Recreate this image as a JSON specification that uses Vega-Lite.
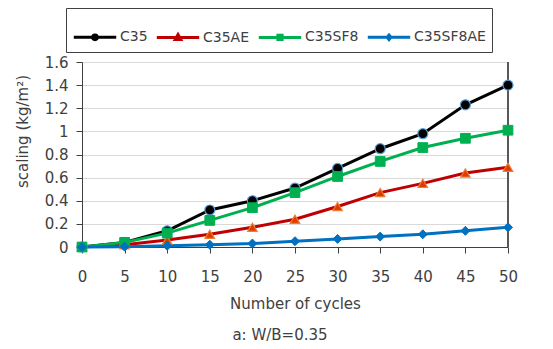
{
  "$schema": "https://vega.github.io/schema/vega-lite/v6.json",
  "width": 426,
  "height": 185,
  "autosize": {"type": "none"},
  "padding": {"left": 82, "top": 62, "right": 45, "bottom": 102},
  "background": "white",
  "config": {
    "font": "DejaVu Sans",
    "view": {"stroke": null},
    "axis": {"labelFont": "DejaVu Sans", "titleFont": "DejaVu Sans", "labelColor": "#404040", "titleColor": "#404040", "titleFontWeight": "normal"}
  },
  "title": {"text": "a: W/B=0.35", "orient": "bottom", "fontSize": 15, "font": "DejaVu Sans", "fontWeight": "normal", "color": "#404040", "dx": -15, "offset": 17},
  "data": {"values": [
    {"cycles": 0, "series": "C35", "scaling": 0},
    {"cycles": 5, "series": "C35", "scaling": 0.04},
    {"cycles": 10, "series": "C35", "scaling": 0.14},
    {"cycles": 15, "series": "C35", "scaling": 0.32},
    {"cycles": 20, "series": "C35", "scaling": 0.40},
    {"cycles": 25, "series": "C35", "scaling": 0.51},
    {"cycles": 30, "series": "C35", "scaling": 0.68},
    {"cycles": 35, "series": "C35", "scaling": 0.85},
    {"cycles": 40, "series": "C35", "scaling": 0.98},
    {"cycles": 45, "series": "C35", "scaling": 1.23},
    {"cycles": 50, "series": "C35", "scaling": 1.40},
    {"cycles": 0, "series": "C35AE", "scaling": 0},
    {"cycles": 5, "series": "C35AE", "scaling": 0.02},
    {"cycles": 10, "series": "C35AE", "scaling": 0.06},
    {"cycles": 15, "series": "C35AE", "scaling": 0.11},
    {"cycles": 20, "series": "C35AE", "scaling": 0.17},
    {"cycles": 25, "series": "C35AE", "scaling": 0.24},
    {"cycles": 30, "series": "C35AE", "scaling": 0.35},
    {"cycles": 35, "series": "C35AE", "scaling": 0.47},
    {"cycles": 40, "series": "C35AE", "scaling": 0.55},
    {"cycles": 45, "series": "C35AE", "scaling": 0.64},
    {"cycles": 50, "series": "C35AE", "scaling": 0.69},
    {"cycles": 0, "series": "C35SF8", "scaling": 0},
    {"cycles": 5, "series": "C35SF8", "scaling": 0.04},
    {"cycles": 10, "series": "C35SF8", "scaling": 0.12},
    {"cycles": 15, "series": "C35SF8", "scaling": 0.23},
    {"cycles": 20, "series": "C35SF8", "scaling": 0.34},
    {"cycles": 25, "series": "C35SF8", "scaling": 0.47},
    {"cycles": 30, "series": "C35SF8", "scaling": 0.61},
    {"cycles": 35, "series": "C35SF8", "scaling": 0.74},
    {"cycles": 40, "series": "C35SF8", "scaling": 0.86},
    {"cycles": 45, "series": "C35SF8", "scaling": 0.94},
    {"cycles": 50, "series": "C35SF8", "scaling": 1.01},
    {"cycles": 0, "series": "C35SF8AE", "scaling": 0},
    {"cycles": 5, "series": "C35SF8AE", "scaling": 0.003},
    {"cycles": 10, "series": "C35SF8AE", "scaling": 0.01},
    {"cycles": 15, "series": "C35SF8AE", "scaling": 0.02},
    {"cycles": 20, "series": "C35SF8AE", "scaling": 0.03},
    {"cycles": 25, "series": "C35SF8AE", "scaling": 0.05},
    {"cycles": 30, "series": "C35SF8AE", "scaling": 0.07},
    {"cycles": 35, "series": "C35SF8AE", "scaling": 0.09},
    {"cycles": 40, "series": "C35SF8AE", "scaling": 0.11},
    {"cycles": 45, "series": "C35SF8AE", "scaling": 0.14},
    {"cycles": 50, "series": "C35SF8AE", "scaling": 0.17}
  ]},
  "encoding": {
    "x": {"field": "cycles", "type": "quantitative", "scale": {"domain": [0, 50], "nice": false},
      "axis": {"values": [0,5,10,15,20,25,30,35,40,45,50], "title": "Number of cycles", "titleFontSize": 15, "labelFontSize": 15, "grid": false, "domainColor": "#404040", "tickColor": "#404040", "tickSize": 6, "labelPadding": 16, "titleY": 56, "titleBaseline": "middle", "labelFlush": false}},
    "y": {"field": "scaling", "type": "quantitative", "scale": {"domain": [0, 1.6], "nice": false},
      "axis": {"values": [0,0.2,0.4,0.6,0.8,1,1.2,1.4,1.6], "format": ".1~f", "title": "scaling (kg/m²)", "titleFontSize": 15, "labelFontSize": 15, "gridColor": "#d9d9d9", "domainColor": "#404040", "tickColor": "#404040", "tickSize": 6, "labelPadding": 8, "titleX": -60, "titleY": 69, "titleBaseline": "middle"}}
  },
  "layer": [
    {
      "mark": {"type": "rule", "color": "#595959", "strokeWidth": 1},
      "encoding": {"x": {"datum": 50}, "y": null}
    },
    {
      "mark": {"type": "line", "strokeWidth": 3},
      "encoding": {
        "color": {"field": "series", "type": "nominal",
          "scale": {"domain": ["C35", "C35AE", "C35SF8", "C35SF8AE"], "range": ["#000000", "#c00000", "#00b050", "#0070c0"]},
          "legend": {
            "orient": "none", "legendX": -16, "legendY": -54, "direction": "horizontal", "title": null,
            "strokeColor": "#404040", "padding": 6, "labelFontSize": 14, "labelFont": "DejaVu Sans", "labelColor": "#404040",
            "symbolSize": 1800, "symbolStrokeWidth": 3, "columnPadding": 2, "labelOffset": 2,
            "encode": {"symbols": {"update": {
              "shape": {"signal": "datum.value === 'C35' ? 'M-1,0H1M0.11,0A0.11,0.11 0 1,1 -0.11,0A0.11,0.11 0 1,1 0.11,0Z' : datum.value === 'C35AE' ? 'M-1,0H1M0,-0.14L0.13,0.09L-0.13,0.09Z' : datum.value === 'C35SF8' ? 'M-1,0H1M-0.1,-0.1H0.1V0.1H-0.1Z' : 'M-1,0H1M0,-0.11L0.09,0L0,0.11L-0.09,0Z'"},
              "fill": {"signal": "datum.value === 'C35' ? '#000000' : datum.value === 'C35AE' ? '#e03a00' : datum.value === 'C35SF8' ? '#00b050' : '#0070c0'"},
              "fillOpacity": {"value": 1}
            }}}
          }
        }
      }
    },
    {
      "transform": [{"filter": "datum.series === 'C35'"}],
      "mark": {"type": "point", "shape": "circle", "filled": true, "opacity": 1, "fill": "#000000", "stroke": "#5b9bd5", "strokeWidth": 1.2, "size": 100}
    },
    {
      "transform": [{"filter": "datum.series === 'C35AE'"}],
      "mark": {"type": "point", "shape": "triangle-up", "filled": true, "opacity": 1, "fill": "#e03a00", "stroke": "#ed7d31", "strokeWidth": 1.2, "size": 90}
    },
    {
      "transform": [{"filter": "datum.series === 'C35SF8'"}],
      "mark": {"type": "point", "shape": "square", "filled": true, "opacity": 1, "fill": "#00b050", "stroke": "#00b050", "strokeWidth": 1, "size": 95}
    },
    {
      "transform": [{"filter": "datum.series === 'C35SF8AE'"}],
      "mark": {"type": "point", "shape": "diamond", "filled": true, "opacity": 1, "fill": "#0070c0", "stroke": "#0070c0", "strokeWidth": 1, "size": 80}
    }
  ]
}
